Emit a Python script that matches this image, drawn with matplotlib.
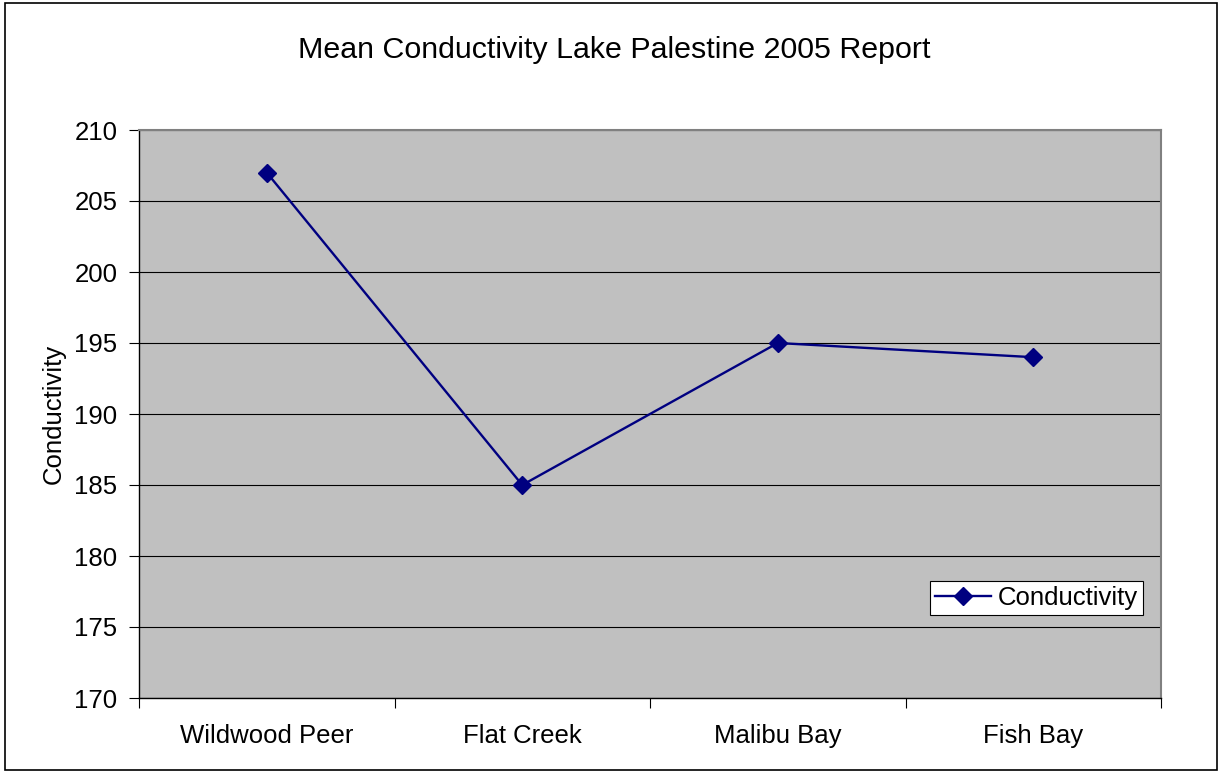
import matplotlib
matplotlib.use("Agg")
import matplotlib.pyplot as plt
from matplotlib.patches import Rectangle

plt.rcParams['font.family'] = ['Liberation Sans', 'DejaVu Sans']

categories = ["Wildwood Peer", "Flat Creek", "Malibu Bay", "Fish Bay"]
conductivity = [207, 185, 195, 194]
y_ticks = [170, 175, 180, 185, 190, 195, 200, 205, 210]

W, H = 1222, 772
fig = plt.figure(figsize=(W / 100, H / 100), dpi=100)
fig.patch.set_facecolor("white")
fig.add_artist(Rectangle((5 / W, 2 / H), (1217 - 5) / W, (769 - 2) / H,
                         transform=fig.transFigure, fill=False,
                         edgecolor="black", linewidth=1.2))

ax = fig.add_axes([139 / W, (H - 698) / H, (1161 - 139) / W, (698 - 130) / H])
ax.set_facecolor("#C0C0C0")

x = list(range(len(categories)))
ax.plot(x, conductivity, color="#000080", linewidth=1.7, marker="D",
        markersize=9, markerfacecolor="#000080", markeredgecolor="#000080",
        label="Conductivity")

FS = 18.5
ax.set_xlim(-0.5, len(categories) - 0.5)
ax.set_ylim(170, 210)
ax.set_yticks(y_ticks)
ax.set_yticklabels([str(v) for v in y_ticks], fontsize=FS)
ax.yaxis.grid(True, color="black", linewidth=0.8)
ax.set_axisbelow(True)

ax.set_xticks([i - 0.5 for i in range(len(categories) + 1)])
ax.set_xticklabels([])
ax.set_xticks(x, minor=True)
ax.set_xticklabels(categories, minor=True, fontsize=FS)
ax.tick_params(axis="x", which="minor", length=0, pad=19)
ax.tick_params(axis="x", which="major", direction="out", length=7, width=0.8)
ax.tick_params(axis="y", direction="out", length=7, width=0.8, pad=8.5)

for side in ["left", "bottom"]:
    ax.spines[side].set_color("black")
    ax.spines[side].set_linewidth(1.0)
for side in ["top", "right"]:
    ax.spines[side].set_color("#808080")
    ax.spines[side].set_linewidth(1.5)

ax.set_ylabel("Conductivity", fontsize=FS, labelpad=6)

fig.text(614 / W, 1 - 50 / H, "Mean Conductivity Lake Palestine 2005 Report",
         ha="center", va="center", fontsize=21.9)

leg = ax.legend(loc="lower right", bbox_to_anchor=(1143 / W, (H - 615) / H),
                bbox_transform=fig.transFigure, fontsize=FS, frameon=True,
                fancybox=False, edgecolor="black", framealpha=1,
                borderpad=0.2, handlelength=2.2, handletextpad=0.25,
                borderaxespad=0)
leg.get_frame().set_linewidth(0.8)

fig.savefig("out.png", dpi=100)
